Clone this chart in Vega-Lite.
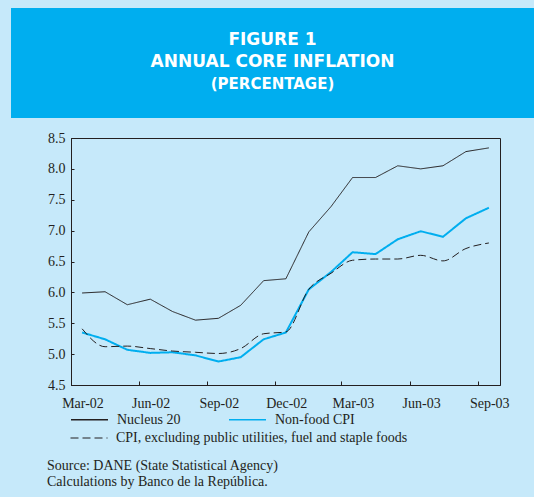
{
  "$schema": "https://vega.github.io/schema/vega-lite/v6.json",
  "background": "#c6e9fa",
  "padding": {"left": 10, "top": 8, "right": 0, "bottom": 8},
  "columns": 2,
  "spacing": {"row": 12, "column": 0},
  "align": "none",
  "bounds": "full",
  "config": {
    "axis": {"labelFont": "Liberation Serif", "labelFontSize": 14, "labelColor": "#231f20", "domainColor": "#231f20", "tickColor": "#231f20", "grid": false, "title": null},
    "title": {"font": "Liberation Serif", "fontSize": 14, "fontWeight": "normal", "color": "#231f20"},
    "legend": {"labelFont": "Liberation Serif", "labelFontSize": 14, "labelColor": "#231f20", "labelLimit": 500, "padding": 0, "title": null}
  },
  "concat": [
    {
      "width": 1, "height": 1, "view": {"stroke": null},
      "data": {"values": []},
      "mark": "point"
    },
    {
      "width": 523,
      "height": 110,
      "view": {"fill": "#00aeef", "stroke": null},
      "data": {"values": [
        {"order": 1, "line": "FIGURE 1"},
        {"order": 2, "line": "ANNUAL CORE INFLATION"},
        {"order": 3, "line": "(PERCENTAGE)"}
      ]},
      "mark": {"type": "text", "font": "DejaVu Sans", "fontWeight": "bold", "color": "#ffffff", "baseline": "middle", "align": "center"},
      "encoding": {
        "y": {"field": "order", "type": "quantitative", "axis": null, "scale": {"domain": [-0.47, 4.53], "reverse": true}},
        "text": {"field": "line"},
        "size": {"condition": {"test": "datum.order === 3", "value": 15}, "value": 17}
      }
    },
    {
      "width": 1, "height": 1, "view": {"stroke": null},
      "data": {"values": []},
      "mark": "point"
    },
    {
      "width": 429,
      "height": 247,
      "view": {"fill": null, "stroke": "#231f20", "strokeWidth": 1},
      "title": {
        "text": ["Source: DANE (State Statistical Agency)", "Calculations by Banco de la República."],
        "orient": "bottom", "anchor": "start", "frame": "group", "dx": -24, "offset": 49, "lineHeight": 16
      },
      "data": {"values": [
        {"month": "2002-03-16", "series": "Nucleus 20", "value": 5.99},
        {"month": "2002-04-16", "series": "Nucleus 20", "value": 6.01},
        {"month": "2002-05-16", "series": "Nucleus 20", "value": 5.80},
        {"month": "2002-06-16", "series": "Nucleus 20", "value": 5.89},
        {"month": "2002-07-16", "series": "Nucleus 20", "value": 5.69},
        {"month": "2002-08-16", "series": "Nucleus 20", "value": 5.55},
        {"month": "2002-09-16", "series": "Nucleus 20", "value": 5.58},
        {"month": "2002-10-16", "series": "Nucleus 20", "value": 5.79},
        {"month": "2002-11-16", "series": "Nucleus 20", "value": 6.19},
        {"month": "2002-12-16", "series": "Nucleus 20", "value": 6.22},
        {"month": "2003-01-16", "series": "Nucleus 20", "value": 6.98},
        {"month": "2003-02-15", "series": "Nucleus 20", "value": 7.39},
        {"month": "2003-03-16", "series": "Nucleus 20", "value": 7.86},
        {"month": "2003-04-16", "series": "Nucleus 20", "value": 7.86},
        {"month": "2003-05-16", "series": "Nucleus 20", "value": 8.05},
        {"month": "2003-06-16", "series": "Nucleus 20", "value": 8.00},
        {"month": "2003-07-16", "series": "Nucleus 20", "value": 8.05},
        {"month": "2003-08-16", "series": "Nucleus 20", "value": 8.28},
        {"month": "2003-09-16", "series": "Nucleus 20", "value": 8.34},
        {"month": "2002-03-16", "series": "Non-food CPI", "value": 5.35},
        {"month": "2002-04-16", "series": "Non-food CPI", "value": 5.24},
        {"month": "2002-05-16", "series": "Non-food CPI", "value": 5.07},
        {"month": "2002-06-16", "series": "Non-food CPI", "value": 5.02},
        {"month": "2002-07-16", "series": "Non-food CPI", "value": 5.03},
        {"month": "2002-08-16", "series": "Non-food CPI", "value": 4.98},
        {"month": "2002-09-16", "series": "Non-food CPI", "value": 4.88},
        {"month": "2002-10-16", "series": "Non-food CPI", "value": 4.95},
        {"month": "2002-11-16", "series": "Non-food CPI", "value": 5.24},
        {"month": "2002-12-16", "series": "Non-food CPI", "value": 5.35},
        {"month": "2003-01-16", "series": "Non-food CPI", "value": 6.05},
        {"month": "2003-02-15", "series": "Non-food CPI", "value": 6.33},
        {"month": "2003-03-16", "series": "Non-food CPI", "value": 6.65},
        {"month": "2003-04-16", "series": "Non-food CPI", "value": 6.62},
        {"month": "2003-05-16", "series": "Non-food CPI", "value": 6.86},
        {"month": "2003-06-16", "series": "Non-food CPI", "value": 6.99},
        {"month": "2003-07-16", "series": "Non-food CPI", "value": 6.90},
        {"month": "2003-08-16", "series": "Non-food CPI", "value": 7.20},
        {"month": "2003-09-16", "series": "Non-food CPI", "value": 7.37},
        {"month": "2002-03-16", "series": "CPI, excluding public utilities, fuel and staple foods", "value": 5.41},
        {"month": "2002-04-16", "series": "CPI, excluding public utilities, fuel and staple foods", "value": 5.12},
        {"month": "2002-05-16", "series": "CPI, excluding public utilities, fuel and staple foods", "value": 5.13},
        {"month": "2002-06-16", "series": "CPI, excluding public utilities, fuel and staple foods", "value": 5.09},
        {"month": "2002-07-16", "series": "CPI, excluding public utilities, fuel and staple foods", "value": 5.05},
        {"month": "2002-08-16", "series": "CPI, excluding public utilities, fuel and staple foods", "value": 5.03},
        {"month": "2002-09-16", "series": "CPI, excluding public utilities, fuel and staple foods", "value": 5.01},
        {"month": "2002-10-16", "series": "CPI, excluding public utilities, fuel and staple foods", "value": 5.09},
        {"month": "2002-11-16", "series": "CPI, excluding public utilities, fuel and staple foods", "value": 5.33},
        {"month": "2002-12-16", "series": "CPI, excluding public utilities, fuel and staple foods", "value": 5.36},
        {"month": "2003-01-16", "series": "CPI, excluding public utilities, fuel and staple foods", "value": 6.05},
        {"month": "2003-02-15", "series": "CPI, excluding public utilities, fuel and staple foods", "value": 6.31},
        {"month": "2003-03-16", "series": "CPI, excluding public utilities, fuel and staple foods", "value": 6.52},
        {"month": "2003-04-16", "series": "CPI, excluding public utilities, fuel and staple foods", "value": 6.54},
        {"month": "2003-05-16", "series": "CPI, excluding public utilities, fuel and staple foods", "value": 6.54},
        {"month": "2003-06-16", "series": "CPI, excluding public utilities, fuel and staple foods", "value": 6.60},
        {"month": "2003-07-16", "series": "CPI, excluding public utilities, fuel and staple foods", "value": 6.51},
        {"month": "2003-08-16", "series": "CPI, excluding public utilities, fuel and staple foods", "value": 6.71},
        {"month": "2003-09-16", "series": "CPI, excluding public utilities, fuel and staple foods", "value": 6.80}
      ]},
      "encoding": {
        "x": {
          "field": "month", "type": "temporal",
          "scale": {"type": "utc", "domain": [{"year": 2002, "month": 3, "date": 1, "utc": true}, {"year": 2003, "month": 10, "date": 1, "utc": true}]},
          "axis": {
            "values": [
              {"year": 2002, "month": 3, "date": 1, "utc": true},
              {"year": 2002, "month": 6, "date": 1, "utc": true},
              {"year": 2002, "month": 9, "date": 1, "utc": true},
              {"year": 2002, "month": 12, "date": 1, "utc": true},
              {"year": 2003, "month": 3, "date": 1, "utc": true},
              {"year": 2003, "month": 6, "date": 1, "utc": true},
              {"year": 2003, "month": 9, "date": 1, "utc": true}
            ],
            "format": "%b-%y", "tickSize": -4, "labelPadding": 15, "labelOffset": 11.5, "labelFlush": false, "labelOverlap": false
          }
        },
        "y": {
          "field": "value", "type": "quantitative",
          "scale": {"domain": [4.5, 8.5], "zero": false, "nice": false},
          "axis": {"values": [4.5, 5, 5.5, 6, 6.5, 7, 7.5, 8, 8.5], "format": ".1f", "tickSize": -3, "labelPadding": 9, "minExtent": 59}
        },
        "color": {
          "field": "series", "type": "nominal",
          "scale": {"domain": ["Nucleus 20", "Non-food CPI", "CPI, excluding public utilities, fuel and staple foods"], "range": ["#231f20", "#00aeef", "#231f20"]},
          "legend": {
            "values": ["Nucleus 20", "Non-food CPI"],
            "orient": "none", "legendX": 60, "legendY": 392, "direction": "horizontal",
            "columnPadding": 44, "symbolType": "stroke", "symbolSize": 1369, "labelOffset": 8, "symbolStrokeWidth": 1.6
          }
        },
        "strokeDash": {
          "field": "series", "type": "nominal",
          "scale": {"domain": ["CPI, excluding public utilities, fuel and staple foods", "Nucleus 20", "Non-food CPI"], "range": [[8, 4], [1, 0], [1, 0]]},
          "legend": {
            "values": ["CPI, excluding public utilities, fuel and staple foods"],
            "orient": "none", "legendX": 60, "legendY": 411, "direction": "horizontal",
            "symbolType": "stroke", "symbolSize": 1369, "labelOffset": 8, "symbolStrokeColor": "#231f20", "symbolStrokeWidth": 1
          }
        }
      },
      "layer": [
        {
          "transform": [{"filter": "datum.series === 'Nucleus 20'"}],
          "mark": {"type": "line", "strokeWidth": 1}
        },
        {
          "transform": [{"filter": "datum.series === 'Non-food CPI'"}],
          "mark": {"type": "line", "strokeWidth": 2}
        },
        {
          "transform": [{"filter": "datum.series === 'CPI, excluding public utilities, fuel and staple foods'"}],
          "mark": {"type": "line", "strokeWidth": 1, "interpolate": "monotone"}
        }
      ]
    }
  ]
}
